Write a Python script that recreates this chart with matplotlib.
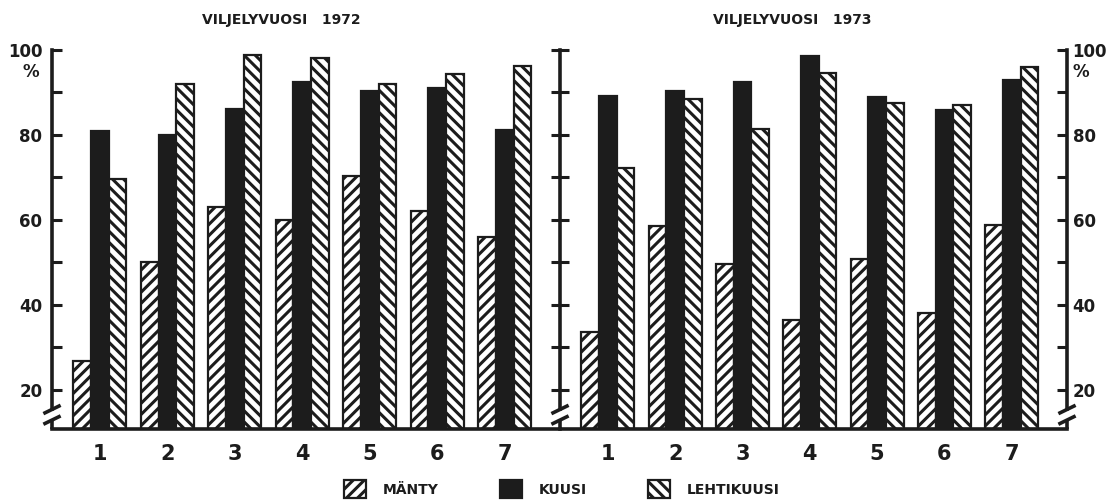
import matplotlib
matplotlib.use("Agg")
import matplotlib.pyplot as plt
from matplotlib.patches import Patch

# ---- data ----
groups = ["1", "2", "3", "4", "5", "6", "7"]
series = ["MÄNTY", "KUUSI", "LEHTIKUUSI"]
titles = ["VILJELYVUOSI   1972", "VILJELYVUOSI   1973"]
manty_1972 = [26.8, 50.0, 63.0, 60.1, 70.3, 62.2, 56.1]
kuusi_1972 = [80.9, 80.1, 86.1, 92.4, 90.4, 91.1, 81.1]
lehti_1972 = [69.7, 92.1, 98.8, 98.2, 92.1, 94.3, 96.2]
manty_1973 = [33.6, 58.6, 49.6, 36.5, 50.9, 38.2, 58.8]
kuusi_1973 = [89.2, 90.4, 92.4, 98.7, 88.9, 85.9, 93.0]
lehti_1973 = [72.3, 88.5, 81.3, 94.5, 87.6, 87.0, 95.9]
major_ticks = [20, 40, 60, 80, 100]
minor_ticks = [30, 50, 70, 90]

plt.rcParams["font.family"] = ["DejaVu Sans"]
plt.rcParams["font.weight"] = "bold"
plt.rcParams["hatch.linewidth"] = 2.2

INK = "#1c1c1c"
YMIN, YMAX = 10.8, 100
W, H = 1117, 500
fig = plt.figure(figsize=(W / 100, H / 100), dpi=100)
ax1 = fig.add_axes([52 / W, 71 / H, 508 / W, 379 / H])
ax2 = fig.add_axes([560 / W, 71 / H, 507 / W, 379 / H])

styles = [dict(facecolor="white", edgecolor=INK, hatch="///", linewidth=1.6),
          dict(facecolor=INK, edgecolor=INK, linewidth=1.6),
          dict(facecolor="white", edgecolor=INK, hatch="\\\\\\", linewidth=1.6)]
bw = 0.262
offsets = [-bw, 0, bw]
data = [[manty_1972, kuusi_1972, lehti_1972], [manty_1973, kuusi_1973, lehti_1973]]

for ax, dset in zip([ax1, ax2], data):
    xs = list(range(1, len(groups) + 1))
    for vals, off, st in zip(dset, offsets, styles):
        ax.bar([x + off for x in xs], [v - YMIN for v in vals], bottom=YMIN,
               width=bw, zorder=2, **st)
    ax.set_xlim(0.29, 7.82)
    ax.set_ylim(YMIN, YMAX)
    ax.set_xticks(xs)
    ax.set_xticklabels(groups, fontsize=15, fontweight="bold")
    ax.tick_params(axis="x", length=0, pad=11, colors=INK)
    ax.spines["top"].set_visible(False)
    for s in ("bottom", "left", "right"):
        ax.spines[s].set_linewidth(2.6)
        ax.spines[s].set_color(INK)
    ax.set_yticks(major_ticks)
    ax.set_yticks(minor_ticks, minor=True)
    ax.set_facecolor("none")

# left axis
ax1.spines["right"].set_visible(False)
ax1.tick_params(axis="y", which="both", direction="in", length=7, width=2.2,
                labelsize=12, pad=7, colors=INK)
ax1.set_yticklabels([str(t) for t in major_ticks], fontweight="bold")

# middle axis (ticks on both sides)
ax2.tick_params(axis="y", which="both", direction="inout", length=13, width=2.2,
                left=True, right=False, labelleft=False, labelright=False, colors=INK)

# right axis (ticks inward, labels outside)
sec = ax2.secondary_yaxis("right")
sec.spines["right"].set_visible(False)
sec.set_yticks(major_ticks)
sec.set_yticks(minor_ticks, minor=True)
sec.set_yticklabels([str(t) for t in major_ticks], fontweight="bold")
sec.tick_params(axis="y", which="both", direction="in", length=7, width=2.2,
                labelsize=12, pad=4, colors=INK)

# broken-axis marks
for ax, xpos in [(ax1, 0.0), (ax2, 0.0), (ax2, 1.0)]:
    side = "left" if xpos == 0.0 else "right"
    ax.spines[side].set_bounds(15.4, YMAX)
    tr = ax.get_yaxis_transform()
    dx = 7 / 508
    ax.plot([xpos, xpos], [YMIN, 12.9], transform=tr, color=INK,
            lw=2.6, clip_on=False, solid_capstyle="butt")
    for yv in (15.4, 12.9):
        ax.plot([xpos - dx, xpos + dx], [yv - 0.8, yv + 0.8], transform=tr,
                color=INK, lw=2.6, clip_on=False)

# percent signs
fig.text(31 / W, 1 - 72 / H, "%", fontsize=12, fontweight="bold", ha="center", va="center", color=INK)
fig.text(1081 / W, 1 - 72 / H, "%", fontsize=12, fontweight="bold", ha="center", va="center", color=INK)

# titles
fig.text(281 / W, 1 - 20 / H, titles[0], fontsize=10, fontweight="bold", ha="center", va="center", color=INK)
fig.text(792 / W, 1 - 20 / H, titles[1], fontsize=10, fontweight="bold", ha="center", va="center", color=INK)

handles = [Patch(**st) for st in styles]
leg = fig.legend(handles, series, loc="center", bbox_to_anchor=(562 / W, 1 - 489 / H),
                 ncol=3, frameon=False, handlelength=1.6, handleheight=1.6,
                 handletextpad=1.2, columnspacing=4.4, prop={"weight": "bold", "size": 10})
for t in leg.get_texts():
    t.set_color(INK)

fig.savefig("out.png", dpi=100)
